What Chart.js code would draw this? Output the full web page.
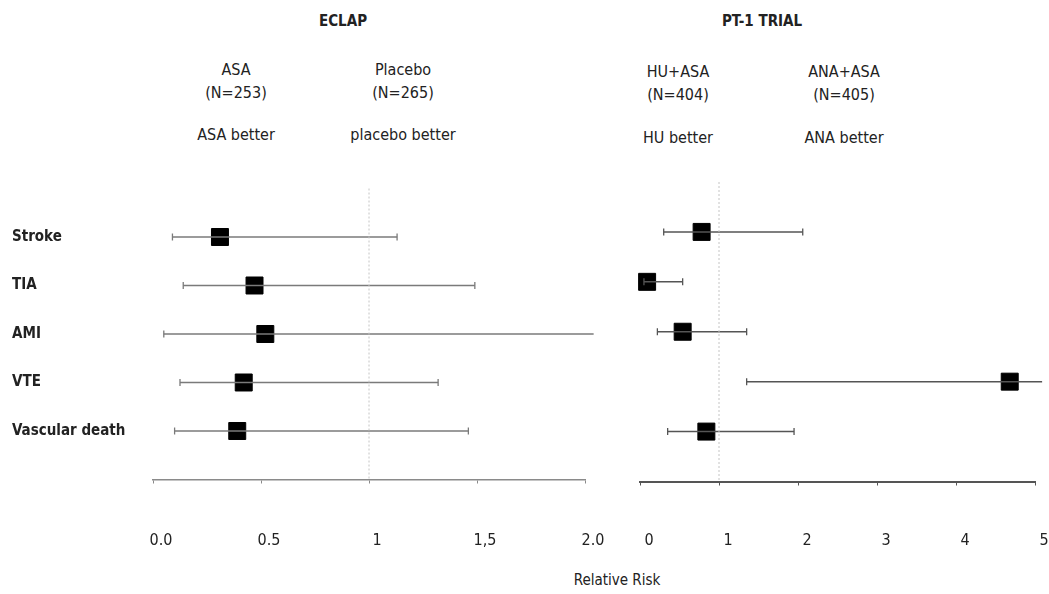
<!DOCTYPE html>
<html>
<head>
<meta charset="utf-8">
<script src="https://cdn.jsdelivr.net/npm/chart.js@4.4.0/dist/chart.umd.min.js"></script>
<style>
  body { margin: 0; background: #fff; width: 1049px; height: 594px; position: relative; overflow: hidden;
         font-family: "DejaVu Sans Condensed", "Liberation Sans", sans-serif; color: #222; }
  .txt { position: absolute; transform: translateX(-50%); white-space: nowrap; text-align: center; font-size: 16px; line-height: 23px; }
  .ttl { font-weight: bold; font-size: 15px; }
  .box { position: absolute; top: 150px; height: 420px; }
</style>
</head>
<body>
<div class="txt ttl" style="left:343px; top:10px">ECLAP</div>
<div class="txt" style="left:236px; top:58px">ASA<br>(N=253)</div>
<div class="txt" style="left:403px; top:58px">Placebo<br>(N=265)</div>
<div class="txt" style="left:236px; top:123px">ASA better</div>
<div class="txt" style="left:403px; top:123px">placebo better</div>

<div class="txt ttl" style="left:762px; top:10px">PT-1 TRIAL</div>
<div class="txt" style="left:678px; top:60px">HU+ASA<br>(N=404)</div>
<div class="txt" style="left:844px; top:60px">ANA+ASA<br>(N=405)</div>
<div class="txt" style="left:678px; top:126px">HU better</div>
<div class="txt" style="left:844px; top:126px">ANA better</div>

<div class="txt" style="left:617px; top:569px; font-size:15px">Relative Risk</div>

<div class="box" style="left:0; width:610px"><canvas id="eclapChart"></canvas></div>
<div class="box" style="left:610px; width:439px"><canvas id="pt1Chart"></canvas></div>

<script>
const rows = ['Stroke', 'TIA', 'AMI', 'VTE', 'Vascular death'];

// ECLAP: relative risk with 95% CI
const eclapRR = [0.31, 0.47, 0.52, 0.42, 0.39];
const eclapLow = [0.09, 0.14, 0.05, 0.125, 0.10];
const eclapHigh = [1.13, 1.49, 2.04, 1.32, 1.46];
const eclapTicks = ['0.0', '0.5', '1', '1,5', '2.0'];

// PT-1 trial
const pt1RR = [0.78, 0.09, 0.54, 4.68, 0.84];
const pt1Low = [0.30, 0.05, 0.22, 1.35, 0.35];
const pt1High = [2.06, 0.54, 1.35, 5.09, 1.95];
const pt1Ticks = ['0', '1', '2', '3', '4', '5'];

Chart.defaults.font.family = '"DejaVu Sans Condensed", "Liberation Sans", sans-serif';
Chart.defaults.color = '#222';

function buildDatasets(rr, low, high, xMax, lineColor) {
    const sets = [];
    // reference line at RR = 1
    sets.push({
        data: [{x: 1, y: 0}, {x: 1, y: 6}],
        showLine: true,
        borderColor: '#c4c4c4',
        borderWidth: 1,
        borderDash: [2, 2],
        pointRadius: 0,
        clip: false
    });
    rows.forEach((r, i) => {
        sets.push({
            data: [{x: low[i], y: i + 1}, {x: high[i], y: i + 1}],
            showLine: true,
            borderColor: lineColor,
            borderWidth: 1.5,
            pointStyle: 'line',
            rotation: 90,
            pointBorderColor: lineColor,
            pointBorderWidth: 1.3,
            pointRadius: [3.5, high[i] > xMax ? 0 : 3.5],
            clip: false
        });
    });
    sets.push({
        data: rr.map((v, i) => ({x: v, y: i + 1})),
        showLine: false,
        pointStyle: 'rect',
        pointRadius: 12,
        backgroundColor: '#000',
        borderColor: '#000',
        pointBorderWidth: 1,
        clip: false
    });
    return sets;
}

function createForest(ctx, cfg) {
    return new Chart(ctx, {
        type: 'scatter',
        data: { datasets: buildDatasets(cfg.rr, cfg.low, cfg.high, cfg.xMax, cfg.lineColor) },
        options: {
            responsive: true,
            maintainAspectRatio: false,
            animation: false,
            layout: { padding: cfg.padding },
            scales: {
                x: {
                    type: 'linear',
                    min: 0,
                    max: cfg.xMax,
                    afterFit: function(scale) { scale.height = 70; },
                    afterBuildTicks: function(scale) {
                        scale.ticks = cfg.ticks.map((t, i) => ({ value: i * cfg.step }));
                    },
                    border: { display: true, color: cfg.axisColor, width: cfg.axisWidth },
                    grid: { drawOnChartArea: false, drawTicks: true, tickLength: 4, tickColor: cfg.axisColor, tickWidth: 1 },
                    ticks: {
                        padding: 4,
                        labelOffset: cfg.labelOffset,
                        maxRotation: 0,
                        autoSkip: false,
                        color: '#222',
                        font: { size: 16, lineHeight: cfg.labelLine },
                        callback: function(value, index) { return cfg.ticks[index]; }
                    }
                },
                y: {
                    type: 'linear',
                    min: 0,
                    max: 6,
                    reverse: true,
                    display: cfg.showRows,
                    afterFit: function(scale) { if (cfg.showRows) scale.width = 141; },
                    afterBuildTicks: function(scale) {
                        scale.ticks = rows.map((r, i) => ({ value: i + 1 }));
                    },
                    border: { display: false },
                    grid: { display: false },
                    ticks: {
                        crossAlign: 'far',
                        color: '#222',
                        font: { size: 15, weight: 'bold' },
                        callback: function(value) { return rows[value - 1]; }
                    }
                }
            },
            plugins: {
                legend: { display: false },
                tooltip: { enabled: false }
            }
        }
    });
}

createForest(document.getElementById('eclapChart').getContext('2d'), {
    rr: eclapRR, low: eclapLow, high: eclapHigh, ticks: eclapTicks,
    xMax: 2, step: 0.5, lineColor: '#7a7a7a', axisColor: '#8a8a8a', axisWidth: 1.5,
    padding: { left: 12, right: 25, top: 38.5, bottom: 20.5 },
    labelLine: '107px', labelOffset: 8, showRows: true
});

createForest(document.getElementById('pt1Chart').getContext('2d'), {
    rr: pt1RR, low: pt1Low, high: pt1High, ticks: pt1Ticks,
    xMax: 5, step: 1, lineColor: '#555', axisColor: '#555', axisWidth: 2,
    padding: { left: 30, right: 14, top: 32, bottom: 18.5 },
    labelLine: '103px', labelOffset: 9, showRows: false
});
</script>
</body>
</html>
